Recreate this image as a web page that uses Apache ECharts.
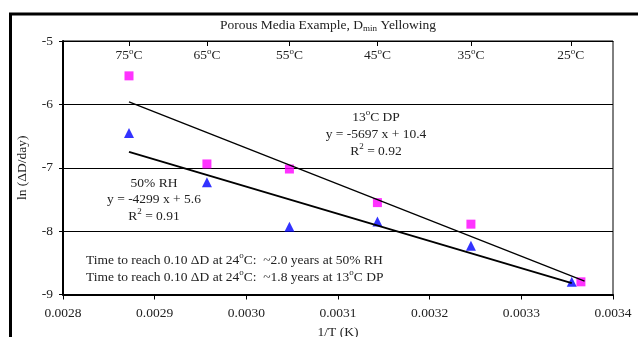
<!DOCTYPE html>
<html>
<head>
<meta charset="utf-8">
<script src="https://cdn.jsdelivr.net/npm/echarts@6/dist/echarts.min.js"></script>
<style>
html,body{margin:0;padding:0;background:#fff;}
#main{width:638px;height:337px;}
</style>
</head>
<body>
<div id="main"></div>
<script>
// 1/T values and ln(dD/day)
var dpX = [0.002872, 0.002957, 0.003047, 0.003143, 0.003245, 0.003365];
var dpY = [-5.55, -6.94, -7.02, -7.55, -7.89, -8.80];
var rhX = [0.002872, 0.002957, 0.003047, 0.003143, 0.003245, 0.003355];
var rhY = [-6.45, -7.23, -7.93, -7.85, -8.23, -8.80];
// trend line end points
var dpFit = [[0.002872, -5.96], [0.003369, -8.79]];
var rhFit = [[0.002872, -6.75], [0.003355, -8.82]];
// temperature marks on top axis
var tempX = [0.002872, 0.002957, 0.003047, 0.003143, 0.003245, 0.003354];
var tempLabels = ['75', '65', '55', '45', '35', '25'];

var font = 'Liberation Serif';
var fs = 13.5;
var txtColor = '#222';
var sup = { s: { fontSize: 9, padding: [0, 0, 8, 0], fontFamily: font, fill: txtColor, color: txtColor } };

function pairs(xs, ys) {
	var out = [];
	for (var i = 0; i < xs.length; i++) {
		out.push([xs[i], ys[i]]);
	}
	return out;
}

function label(x, y, text, align) {
	return {
		type : 'text',
		x : x,
		y : y,
		style : {
			text : text,
			fontFamily : font,
			fontSize : fs,
			fill : txtColor,
			align : align || 'center',
			verticalAlign : 'middle',
			rich : sup
		}
	};
}

var myChart = echarts.init(document.getElementById('main'));
var option = {
	animation : false,
	textStyle : { fontFamily : font },
	grid : {
		left : 63,
		right : 25,
		top : 41,
		bottom : 42.5,
		outerBoundsMode : 'none',
		containLabel : false,
		show : true,
		borderColor : '#000',
		borderWidth : 1
	},
	xAxis : [
		{
			type : 'value',
			min : 0.0028,
			max : 0.0034,
			interval : 0.0001,
			name : '1/T (K)',
			nameLocation : 'middle',
			nameGap : 35,
			nameTextStyle : { fontFamily : font, fontSize : fs, color : txtColor, verticalAlign : 'middle' },
			axisLine : { lineStyle : { color : '#000', width : 2 } },
			axisTick : { show : true, length : 5, lineStyle : { color : '#000' } },
			axisLabel : {
				fontFamily : font,
				fontSize : fs,
				color : txtColor,
				margin : 12,
				formatter : function (v) { return v.toFixed(4); }
			},
			splitLine : { show : false }
		},
		{
			type : 'value',
			position : 'top',
			min : 0.0028,
			max : 0.0034,
			axisLine : { show : true, lineStyle : { color : '#000', width : 1 } },
			axisTick : {
				show : true,
				inside : true,
				length : 5,
				customValues : tempX,
				lineStyle : { color : '#000' }
			},
			axisLabel : {
				inside : true,
				margin : 6,
				customValues : tempX,
				fontFamily : font,
				fontSize : fs,
				color : txtColor,
				rich : sup,
				formatter : function (v) {
					var best = 0;
					for (var i = 0; i < tempX.length; i++) {
						if (Math.abs(tempX[i] - v) < Math.abs(tempX[best] - v)) best = i;
					}
					return tempLabels[best] + '{s|o}C';
				}
			},
			splitLine : { show : false }
		}
	],
	yAxis : {
		type : 'value',
		min : -9,
		max : -5,
		interval : 1,
		name : 'ln (\u0394D/day)',
		nameLocation : 'middle',
		nameGap : 34,
		nameTextStyle : { fontFamily : font, fontSize : fs, color : txtColor },
		axisLine : { show : true, lineStyle : { color : '#000', width : 2 } },
		axisTick : { show : true, length : 4, lineStyle : { color : '#000' } },
		axisLabel : { fontFamily : font, fontSize : fs, color : txtColor, margin : 10 },
		splitLine : { show : true, lineStyle : { color : '#000', width : 1 } }
	},
	series : [
		{
			name : '13C DP',
			type : 'scatter',
			symbol : 'rect',
			symbolSize : 9,
			itemStyle : { color : '#FF00FF' },
			data : pairs(dpX, dpY),
			z : 2
		},
		{
			name : '50% RH',
			type : 'scatter',
			symbol : 'triangle',
			symbolSize : 10,
			itemStyle : { color : '#0000FF' },
			data : pairs(rhX, rhY),
			z : 2
		},
		{
			type : 'line',
			showSymbol : false,
			symbol : 'none',
			lineStyle : { color : '#000', width : 1.3 },
			data : dpFit,
			z : 3
		},
		{
			type : 'line',
			showSymbol : false,
			symbol : 'none',
			lineStyle : { color : '#000', width : 2 },
			data : rhFit,
			z : 3
		}
	],
	graphic : [
		{
			type : 'rect',
			shape : { x : 10.5, y : 14, width : 700, height : 400 },
			style : { fill : 'none', stroke : '#000', lineWidth : 3 },
			silent : true
		},
		{
			type : 'text',
			x : 328,
			y : 25,
			style : {
				text : 'Porous Media Example, D{b|min} Yellowing',
				fontFamily : font,
				fontSize : fs,
				fill : txtColor,
				align : 'center',
				verticalAlign : 'middle',
				rich : { b : { fontSize : 9, padding : [7, 0, 0, 0], fontFamily : font, fill : txtColor } }
			}
		},
		label(376, 117, '13{s|o}C DP'),
		label(376, 134, 'y = -5697 x + 10.4'),
		label(376, 151, 'R{s|2} = 0.92'),
		label(154, 183, '50% RH'),
		label(154, 199, 'y = -4299 x + 5.6'),
		label(154, 216, 'R{s|2} = 0.91'),
		label(86, 260, 'Time to reach 0.10 \u0394D at 24{s|o}C:  ~2.0 years at 50% RH', 'left'),
		label(86, 277, 'Time to reach 0.10 \u0394D at 24{s|o}C:  ~1.8 years at 13{s|o}C DP', 'left')
	]
};
myChart.setOption(option);
</script>
</body>
</html>
